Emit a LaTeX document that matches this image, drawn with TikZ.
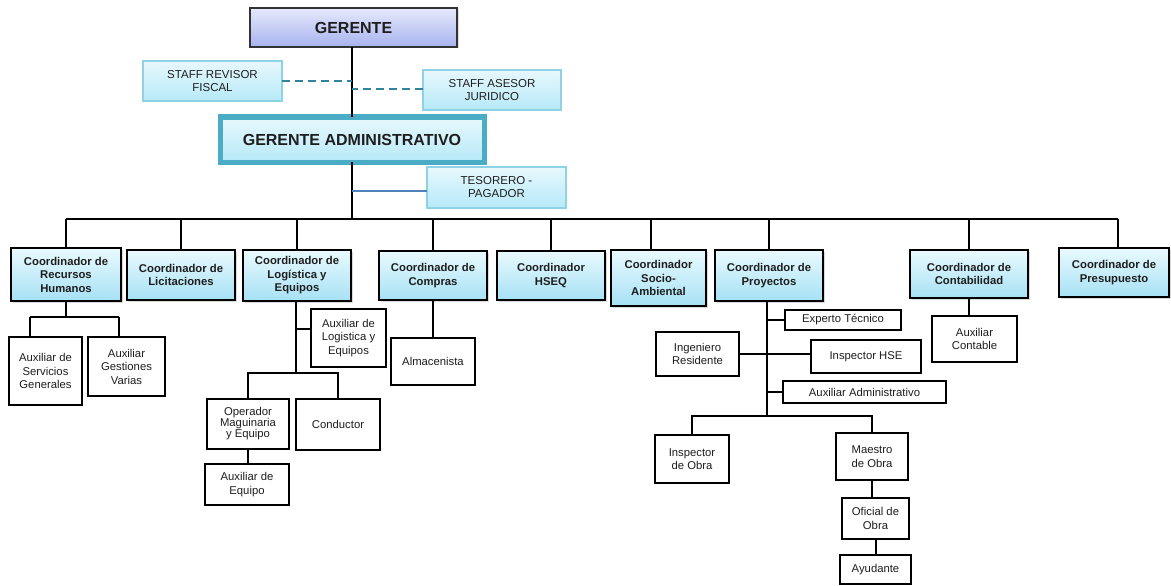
\documentclass[tikz,border=0pt]{standalone}
\usepackage{fontspec}
\setmainfont{Liberation Sans}
\usetikzlibrary{shadows}

\definecolor{inktext}{HTML}{1E1E1E}
\definecolor{coordtop}{HTML}{EAFAFE}
\definecolor{coordbot}{HTML}{A6E1F5}
\definecolor{stafftop}{HTML}{E8F8FD}
\definecolor{staffbot}{HTML}{B6E9F8}
\definecolor{staffline}{HTML}{8ED2E6}
\definecolor{gertop}{HTML}{E6E9FC}
\definecolor{gerbot}{HTML}{A7B3EE}
\definecolor{admline}{HTML}{4BACC6}
\definecolor{dashline}{HTML}{31849B}
\definecolor{tesline}{HTML}{4F81BD}

\tikzset{
  every node/.style={text=inktext, align=center, inner sep=2pt, outer sep=0pt},
  link/.style={draw=black, line width=2pt},
  coordbox/.style={draw=black, line width=2pt, top color=coordtop, bottom color=coordbot,
    font=\fontsize{11.3}{13.5}\selectfont\bfseries,
    drop shadow={opacity=0.3, shadow xshift=1.5pt, shadow yshift=-1.5pt}},
  plainbox/.style={draw=black, line width=1.8pt, fill=white,
    font=\fontsize{11.3}{13.5}\selectfont},
  staffbox/.style={draw=staffline, line width=1.1pt, top color=stafftop, bottom color=staffbot,
    font=\fontsize{11.5}{13}\selectfont,
    drop shadow={opacity=0.2, shadow xshift=1.2pt, shadow yshift=-1.2pt}},
  gerbox/.style={draw=black!80, line width=1.3pt, top color=gertop, bottom color=gerbot,
    font=\fontsize{16}{18}\selectfont\bfseries,
    drop shadow={opacity=0.25, shadow xshift=1.5pt, shadow yshift=-1.5pt}},
  admbox/.style={draw=admline, line width=5pt, top color=stafftop, bottom color=staffbot,
    font=\fontsize{16}{18}\selectfont\bfseries,
    drop shadow={opacity=0.25, shadow xshift=2pt, shadow yshift=-2pt}},
  staffdash/.style={draw=dashline, line width=2pt, dash pattern=on 8pt off 5pt},
  teslink/.style={draw=tesline, line width=1.6pt},
}

% box from its corners: name, x1, y1, x2, y2, style, text
\newcommand\orgbox[7]{%
  \node[#6, minimum width={(#4-#2)*1pt}, minimum height={(#5-#3)*1pt}]
    (#1) at ({(#2+#4)/2},{(#3+#5)/2}) {#7};}

\begin{document}
\begin{tikzpicture}[x=1pt,y=-1pt]
\useasboundingbox (0,0) rectangle (1171,586);

% top management
\orgbox{ger}{250}{8}{457}{47}{gerbox}{GERENTE}
\orgbox{rev}{143}{61}{282}{101}{staffbox}{STAFF REVISOR\\FISCAL}
\orgbox{ase}{423}{70}{561}{110}{staffbox}{STAFF ASESOR\\JURIDICO}
\orgbox{gadm}{220}{117}{484}{162}{admbox}{GERENTE ADMINISTRATIVO}
\orgbox{tes}{427}{167}{566}{208}{staffbox}{TESORERO -\\PAGADOR}

% coordinators
\orgbox{cRH}{11}{248}{121}{301}{coordbox}{Coordinador de\\Recursos\\Humanos}
\orgbox{cLic}{127}{250}{235}{300}{coordbox}{Coordinador de\\Licitaciones}
\orgbox{cLog}{243}{250}{351}{301}{coordbox}{Coordinador de\\Logística y\\Equipos}
\orgbox{cCom}{379}{251}{487}{300}{coordbox}{Coordinador de\\Compras}
\orgbox{cHSE}{497}{251}{605}{300}{coordbox}{Coordinador\\HSEQ}
\orgbox{cSoc}{611}{250}{706}{306}{coordbox}{Coordinador\\Socio-\\Ambiental}
\orgbox{cPro}{715}{250}{823}{301}{coordbox}{Coordinador de\\Proyectos}
\orgbox{cCon}{910}{250}{1028}{298}{coordbox}{Coordinador de\\Contabilidad}
\orgbox{cPre}{1059}{248}{1169}{297}{coordbox}{Coordinador de\\Presupuesto}

% staff positions
\orgbox{aSG}{9}{337}{82}{405}{plainbox}{Auxiliar de\\Servicios\\Generales}
\orgbox{aGV}{88}{337}{165}{396}{plainbox}{Auxiliar\\Gestiones\\Varias}
\orgbox{aLog}{311}{309}{386}{367}{plainbox}{Auxiliar de\\Logistica y\\Equipos}
\orgbox{opm}{207}{399}{289}{449}{plainbox, font=\fontsize{11.3}{11}\selectfont}{Operador\\Maguinaria\\y Equipo}
\orgbox{cond}{296}{399}{380}{450}{plainbox}{Conductor}
\orgbox{aeq}{205}{464}{289}{505}{plainbox}{Auxiliar de\\Equipo}
\orgbox{alm}{391}{338}{475}{385}{plainbox}{Almacenista}
\orgbox{exp}{785}{310}{901}{330}{plainbox}{Experto Técnico}
\orgbox{ing}{656}{332}{739}{376}{plainbox}{Ingeniero\\Residente}
\orgbox{hse}{811}{340}{921}{373}{plainbox}{Inspector HSE}
\orgbox{aad}{783}{381}{946}{403}{plainbox}{Auxiliar Administrativo}
\orgbox{iob}{655}{435}{729}{483}{plainbox}{Inspector\\de Obra}
\orgbox{mob}{836}{433}{908}{480}{plainbox}{Maestro\\de Obra}
\orgbox{ofi}{842}{498}{909}{539}{plainbox}{Oficial de\\Obra}
\orgbox{ayu}{840}{555}{911}{584}{plainbox}{Ayudante}
\orgbox{acon}{932}{316}{1017}{362}{plainbox}{Auxiliar\\Contable}

% junction points
\coordinate (busy) at (0,219);
\coordinate (socTop) at (651,250);
\coordinate (preTop) at (1118,248);
\coordinate (rhL) at (30,317);
\coordinate (rhR) at (119,317);
\coordinate (lgb) at (296,329);
\coordinate (lgk) at (296,373);
\coordinate (prk) at (767,416);
\coordinate (ofk) at (876,539);

% main spine
\draw[link] (ger.south -| gadm.north) -- (gadm.north);
\draw[link] (gadm.south) -- (gadm.south |- busy);
\draw[staffdash] (rev.east) -- (rev.east -| gadm.north);
\draw[staffdash] ([yshift=1pt]ase.west) -- ([yshift=1pt]ase.west -| gadm.north);
\draw[teslink] ([yshift=-3.5pt]tes.west) -- ([yshift=-3.5pt]tes.west -| gadm.south);

% bus and drops to coordinators
\draw[link] (cRH.north |- busy) -- (preTop |- busy);
\foreach \c in {cRH,cLic,cLog,cCom,cHSE,cPro,cCon}
  \draw[link] (\c.north) -- (\c.north |- busy);
\draw[link] (socTop) -- (socTop |- busy);
\draw[link] (preTop) -- (preTop |- busy);

% human resources
\draw[link] (cRH.south) -- (cRH.south |- rhL);
\draw[link] (rhL) -- (rhR);
\draw[link] (rhL) -- (rhL |- aSG.north);
\draw[link] (rhR) -- (rhR |- aGV.north);

% logistics
\draw[link] (cLog.south -| lgk) -- (lgk);
\draw[link] (lgb) -- (lgb -| aLog.west);
\draw[link] (opm.north) |- (lgk) -| (cond.north);
\draw[link] (opm.south) -- (opm.south |- aeq.north);

% purchasing
\draw[link] (cCom.south) -- (alm.north);

% projects
\draw[link] (cPro.south -| prk) -- (prk);
\draw[link] (exp.west) -- (exp.west -| prk);
\draw[link] (ing.east) -- (ing.east -| hse.west);
\draw[link] (aad.west) -- (aad.west -| prk);
\draw[link] (iob.north) |- (prk) -| (mob.north);
\draw[link] (mob.south) -- (mob.south |- ofi.north);
\draw[link] (ofk) -- (ofk |- ayu.north);

% accounting
\draw[link] (cCon.south) -- (cCon.south |- acon.north);
\end{tikzpicture}
\end{document}
